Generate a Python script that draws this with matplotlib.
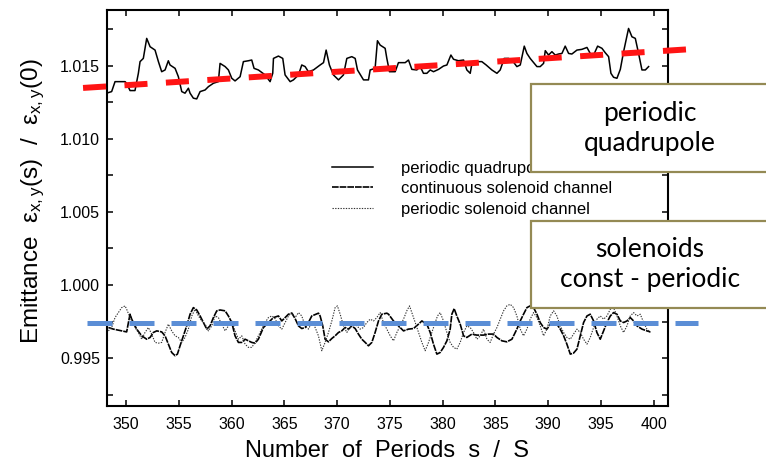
import matplotlib
matplotlib.use('Agg')
import matplotlib.pyplot as plt
from matplotlib.patches import Rectangle
from matplotlib.ticker import MultipleLocator, FormatStrFormatter

plt.rcParams['font.family'] = ['Liberation Sans', 'DejaVu Sans']
plt.rcParams['mathtext.fontset'] = 'custom'
plt.rcParams['mathtext.rm'] = 'Liberation Sans'
plt.rcParams['mathtext.it'] = 'Liberation Sans'

# periodic quadrupole channel (solid, upper curve)
quad_s = [348.33, 348.64, 348.96, 349.27, 349.91, 350.06, 350.38, 350.85, 351.17, 351.33,
          351.64, 351.96, 352.28, 352.75, 353.07, 353.38, 353.70, 354.01, 354.17, 354.65,
          354.96, 355.28, 355.59, 355.91, 356.07, 356.38, 356.70, 357.02, 357.49, 357.81,
          358.28, 358.75, 358.91, 359.39, 359.70, 360.02, 360.33, 360.81, 361.12, 361.60,
          361.91, 362.13, 362.54, 363.18, 363.65, 363.90, 363.97, 364.44, 364.85, 365.07,
          365.55, 365.86, 366.34, 366.65, 366.97, 367.28, 367.76, 368.39, 368.71, 368.96,
          369.27, 369.65, 370.13, 370.60, 370.92, 371.39, 371.71, 371.93, 372.50, 372.97,
          373.13, 373.60, 373.82, 374.08, 374.55, 374.71, 374.96, 375.50, 375.81, 376.45,
          376.76, 377.08, 377.55, 377.87, 378.18, 378.50, 378.82, 379.13, 379.61, 380.08,
          380.40, 380.78, 381.03, 381.50, 381.98, 382.29, 382.61, 382.77, 383.24, 383.71,
          384.12, 384.66, 385.14, 385.45, 385.83, 386.24, 386.56, 387.03, 387.35, 387.73,
          387.98, 388.29, 388.93, 389.24, 389.56, 389.72, 390.03, 390.35, 390.66, 390.98,
          391.30, 391.61, 391.93, 392.24, 392.72, 393.19, 393.67, 393.98, 394.30, 394.68,
          395.09, 395.40, 395.72, 395.94, 396.19, 396.51, 396.83, 397.14, 397.61, 397.93,
          398.25, 398.56, 398.88, 399.20, 399.51]
quad_e = [1.01316, 1.01323, 1.01391, 1.01391, 1.01391, 1.01380, 1.01330, 1.01330, 1.01448, 1.01528,
          1.01550, 1.01687, 1.01630, 1.01607, 1.01528, 1.01459, 1.01471, 1.01534, 1.01505, 1.01482,
          1.01425, 1.01323, 1.01312, 1.01346, 1.01312, 1.01278, 1.01273, 1.01323, 1.01334, 1.01357,
          1.01380, 1.01391, 1.01516, 1.01494, 1.01471, 1.01414, 1.01396, 1.01425, 1.01528, 1.01534,
          1.01539, 1.01482, 1.01471, 1.01437, 1.01391, 1.01448, 1.01550, 1.01566, 1.01550, 1.01437,
          1.01391, 1.01403, 1.01437, 1.01505, 1.01494, 1.01459, 1.01471, 1.01505, 1.01521, 1.01607,
          1.01505, 1.01437, 1.01403, 1.01437, 1.01550, 1.01562, 1.01550, 1.01471, 1.01403, 1.01403,
          1.01471, 1.01482, 1.01671, 1.01641, 1.01619, 1.01550, 1.01459, 1.01459, 1.01521, 1.01521,
          1.01539, 1.01475, 1.01471, 1.01494, 1.01448, 1.01448, 1.01471, 1.01459, 1.01475, 1.01498,
          1.01505, 1.01573, 1.01544, 1.01534, 1.01539, 1.01471, 1.01448, 1.01516, 1.01528, 1.01528,
          1.01505, 1.01471, 1.01448, 1.01471, 1.01550, 1.01550, 1.01539, 1.01494, 1.01505, 1.01634,
          1.01584, 1.01550, 1.01494, 1.01494, 1.01516, 1.01603, 1.01573, 1.01596, 1.01573, 1.01580,
          1.01584, 1.01634, 1.01584, 1.01580, 1.01607, 1.01612, 1.01625, 1.01584, 1.01573, 1.01634,
          1.01619, 1.01589, 1.01562, 1.01448, 1.01421, 1.01414, 1.01475, 1.01596, 1.01755, 1.01698,
          1.01687, 1.01584, 1.01471, 1.01471, 1.01494]

# continuous solenoid channel (dashed, lower curve)
cont_s = [348.33, 348.80, 349.59, 350.06, 350.38, 350.54, 350.70, 351.01, 351.49, 351.96,
          352.28, 352.59, 352.91, 353.38, 353.70, 354.01, 354.33, 354.65, 354.87, 355.12,
          355.44, 355.75, 356.07, 356.38, 356.70, 357.02, 357.33, 357.65, 357.96, 358.28,
          358.60, 358.91, 359.39, 359.70, 360.02, 360.33, 360.65, 360.97, 361.28, 361.60,
          361.91, 362.23, 362.54, 363.02, 363.34, 363.65, 363.97, 364.44, 364.76, 365.07,
          365.39, 365.71, 366.02, 366.34, 366.65, 366.97, 367.28, 367.60, 368.01, 368.23,
          368.39, 368.64, 368.86, 369.18, 369.50, 369.81, 370.13, 370.44, 370.76, 371.08,
          371.39, 371.71, 372.02, 372.34, 372.66, 372.97, 373.29, 373.60, 373.92, 374.24,
          374.71, 374.87, 375.34, 375.81, 376.29, 376.76, 377.24, 377.71, 378.03, 378.50,
          378.82, 379.13, 379.45, 379.76, 380.08, 380.40, 380.71, 380.87, 381.09, 381.34,
          381.66, 381.98, 382.29, 382.77, 383.24, 383.87, 384.35, 384.82, 385.14, 385.61,
          386.08, 386.56, 387.03, 387.35, 387.66, 387.98, 388.29, 388.61, 388.93, 389.24,
          389.56, 389.88, 390.19, 390.51, 390.82, 391.14, 391.46, 391.77, 392.09, 392.40,
          392.72, 393.03, 393.35, 393.67, 393.98, 394.30, 394.61, 394.93, 395.25, 395.56,
          395.88, 396.19, 396.51, 396.83, 397.14, 397.46, 397.77, 398.09, 398.41, 398.88,
          399.35, 399.67]
cont_e = [0.99709, 0.99698, 0.99686, 0.99679, 0.99800, 0.99766, 0.99743, 0.99698, 0.99652, 0.99629,
          0.99641, 0.99675, 0.99686, 0.99679, 0.99652, 0.99595, 0.99538, 0.99516, 0.99527, 0.99584,
          0.99652, 0.99720, 0.99800, 0.99845, 0.99829, 0.99788, 0.99743, 0.99698, 0.99720, 0.99777,
          0.99823, 0.99829, 0.99823, 0.99788, 0.99743, 0.99652, 0.99607, 0.99607, 0.99629, 0.99618,
          0.99607, 0.99602, 0.99629, 0.99709, 0.99732, 0.99754, 0.99777, 0.99788, 0.99754, 0.99777,
          0.99800, 0.99807, 0.99770, 0.99720, 0.99702, 0.99709, 0.99743, 0.99788, 0.99800, 0.99807,
          0.99788, 0.99720, 0.99629, 0.99611, 0.99634, 0.99652, 0.99675, 0.99686, 0.99709, 0.99698,
          0.99720, 0.99702, 0.99664, 0.99629, 0.99607, 0.99584, 0.99607, 0.99675, 0.99754, 0.99800,
          0.99807, 0.99800, 0.99754, 0.99720, 0.99686, 0.99698, 0.99702, 0.99732, 0.99754, 0.99732,
          0.99675, 0.99595, 0.99527, 0.99538, 0.99573, 0.99618, 0.99698, 0.99800, 0.99838, 0.99788,
          0.99732, 0.99652, 0.99641, 0.99664, 0.99657, 0.99657, 0.99664, 0.99664, 0.99641, 0.99618,
          0.99611, 0.99629, 0.99698, 0.99754, 0.99800, 0.99845, 0.99857, 0.99845, 0.99800, 0.99743,
          0.99709, 0.99698, 0.99732, 0.99747, 0.99732, 0.99698, 0.99652, 0.99595, 0.99527, 0.99534,
          0.99561, 0.99652, 0.99743, 0.99788, 0.99800, 0.99754, 0.99675, 0.99629, 0.99686, 0.99743,
          0.99788, 0.99811, 0.99800, 0.99754, 0.99743, 0.99754, 0.99777, 0.99754, 0.99720, 0.99698,
          0.99686, 0.99679]

# periodic solenoid channel (dotted, lower curve)
per_s = [348.33, 348.64, 348.96, 349.27, 349.59, 349.91, 350.06, 350.32, 350.54, 350.85,
         351.17, 351.49, 351.80, 352.12, 352.43, 352.75, 353.07, 353.38, 353.70, 354.01,
         354.33, 354.65, 354.96, 355.28, 355.59, 355.91, 356.23, 356.54, 356.86, 357.17,
         357.49, 357.81, 358.12, 358.44, 358.75, 359.07, 359.39, 359.70, 360.02, 360.33,
         360.65, 360.97, 361.28, 361.60, 361.91, 362.23, 362.54, 362.86, 363.18, 363.49,
         363.81, 364.12, 364.44, 364.76, 365.07, 365.39, 365.71, 366.02, 366.34, 366.65,
         366.97, 367.28, 367.60, 367.92, 368.23, 368.55, 368.86, 369.18, 369.50, 369.81,
         370.03, 370.29, 370.60, 370.92, 371.23, 371.55, 371.87, 372.18, 372.50, 372.81,
         373.13, 373.45, 373.76, 374.08, 374.39, 374.71, 375.03, 375.34, 375.66, 375.97,
         376.29, 376.60, 376.86, 377.08, 377.40, 377.71, 378.03, 378.34, 378.66, 378.97,
         379.29, 379.51, 379.76, 380.08, 380.40, 380.71, 381.03, 381.34, 381.66, 381.98,
         382.29, 382.61, 382.92, 383.24, 383.56, 383.87, 384.19, 384.50, 384.82, 385.14,
         385.45, 385.77, 386.08, 386.40, 386.72, 387.03, 387.35, 387.66, 387.98, 388.29,
         388.61, 388.93, 389.24, 389.56, 389.88, 390.19, 390.51, 390.82, 391.14, 391.46,
         391.77, 392.09, 392.40, 392.72, 393.03, 393.35, 393.67, 393.98, 394.30, 394.61,
         394.93, 395.25, 395.56, 395.88, 396.19, 396.51, 396.83, 397.14, 397.46, 397.77,
         398.09, 398.41, 398.72, 399.04, 399.35, 399.67]
per_e = [0.99686, 0.99709, 0.99777, 0.99811, 0.99845, 0.99857, 0.99834, 0.99788, 0.99754, 0.99709,
         0.99675, 0.99629, 0.99675, 0.99709, 0.99664, 0.99607, 0.99602, 0.99607, 0.99675, 0.99732,
         0.99686, 0.99652, 0.99641, 0.99607, 0.99641, 0.99698, 0.99788, 0.99834, 0.99788, 0.99754,
         0.99732, 0.99686, 0.99720, 0.99788, 0.99777, 0.99732, 0.99686, 0.99720, 0.99754, 0.99686,
         0.99629, 0.99652, 0.99595, 0.99573, 0.99573, 0.99607, 0.99652, 0.99698, 0.99743, 0.99777,
         0.99788, 0.99770, 0.99720, 0.99698, 0.99743, 0.99788, 0.99811, 0.99777, 0.99811, 0.99788,
         0.99720, 0.99698, 0.99743, 0.99709, 0.99652, 0.99550, 0.99607, 0.99675, 0.99754, 0.99845,
         0.99857, 0.99800, 0.99720, 0.99675, 0.99709, 0.99732, 0.99720, 0.99698, 0.99709, 0.99743,
         0.99766, 0.99754, 0.99777, 0.99811, 0.99743, 0.99698, 0.99652, 0.99618, 0.99675, 0.99720,
         0.99766, 0.99823, 0.99857, 0.99811, 0.99743, 0.99675, 0.99607, 0.99550, 0.99607, 0.99675,
         0.99743, 0.99788, 0.99811, 0.99754, 0.99675, 0.99607, 0.99573, 0.99561, 0.99607, 0.99675,
         0.99720, 0.99709, 0.99675, 0.99629, 0.99652, 0.99698, 0.99629, 0.99607, 0.99664, 0.99709,
         0.99766, 0.99823, 0.99857, 0.99868, 0.99845, 0.99788, 0.99698, 0.99652, 0.99698, 0.99766,
         0.99811, 0.99777, 0.99720, 0.99652, 0.99698, 0.99788, 0.99823, 0.99788, 0.99720, 0.99675,
         0.99641, 0.99629, 0.99664, 0.99698, 0.99675, 0.99629, 0.99595, 0.99641, 0.99709, 0.99766,
         0.99788, 0.99766, 0.99788, 0.99834, 0.99845, 0.99788, 0.99720, 0.99675, 0.99720, 0.99788,
         0.99811, 0.99788, 0.99800, 0.99743, 0.99698, 0.99675]

# overlaid trend lines
red_s = [345.93, 403.65]
red_e = [1.01348, 1.01614]
blue_s = [346.30, 404.20]
blue_e = [0.99738, 0.99738]

labels = ['periodic quadrupole channel', 'continuous solenoid channel',
          'periodic solenoid channel']
box_texts = ['periodic\nquadrupole', 'solenoids\nconst - periodic']

fig = plt.figure(figsize=(7.66, 4.62), dpi=100)
ax = fig.add_axes([0.1397, 0.1212, 0.7324, 0.8571])

l1, = ax.plot(quad_s, quad_e, color='black', lw=1.1)
l2, = ax.plot(cont_s, cont_e, color='black', lw=1.2, dashes=(4, 0.6))
l3, = ax.plot(per_s, per_e, color='#333333', lw=0.8, dashes=(1.2, 1.2))

ax.plot(red_s, red_e, color='#FF1414', lw=4.3, dashes=(3.86, 3.09),
        solid_capstyle='butt', dash_capstyle='butt', clip_on=False, zorder=5)
ax.plot(blue_s, blue_e, color='#5B8ED6', lw=3.6, dashes=(5.0, 3.4),
        solid_capstyle='butt', dash_capstyle='butt', clip_on=False, zorder=5)

ax.set_xlim(348.2, 401.35)
ax.set_ylim(0.99172, 1.01881)
ax.xaxis.set_major_locator(MultipleLocator(5))
ax.yaxis.set_major_locator(MultipleLocator(0.005))
ax.yaxis.set_minor_locator(MultipleLocator(0.0025))
ax.yaxis.set_major_formatter(FormatStrFormatter('%.3f'))
ax.tick_params(which='both', direction='in', top=True, right=True,
               length=4.5, width=1.1, labelsize=11.5)
ax.tick_params(axis='y', pad=5)
ax.tick_params(axis='x', pad=8)
for sp in ax.spines.values():
    sp.set_linewidth(1.5)

ax.legend([l1, l2, l3], labels, loc='upper left', frameon=False,
          bbox_to_anchor=(331.7 / 766, 1 - 161 / 462), bbox_transform=fig.transFigure,
          borderpad=0, borderaxespad=0, handlelength=2.5, handletextpad=1.66,
          labelspacing=0.32, fontsize=12)

fig.text(387 / 766, 1 - 457 / 462, 'Number  of  Periods  s  /  S', fontsize=17,
         ha='center', va='baseline')
fig.text(33 / 766, 1 - 201 / 462,
         r'Emittance  ε$_{x,y}$(s)  /  ε$_{x,y}$(0)', fontsize=17.5,
         rotation=90, ha='center', va='center')

# annotation boxes on the right
for (top, bottom), txt in zip([(84, 172), (221, 308)], box_texts):
    fig.add_artist(Rectangle((531 / 766, 1 - bottom / 462), 240 / 766, (bottom - top) / 462,
                             transform=fig.transFigure, facecolor='white',
                             edgecolor='#948A54', lw=1.6, zorder=10, clip_on=False))
    fig.text(650 / 766, 1 - (top + bottom) / 2 / 462, txt, fontsize=19, family='Lato',
             ha='center', va='center', linespacing=1.25, zorder=11)

fig.savefig('out.png', dpi=100)
